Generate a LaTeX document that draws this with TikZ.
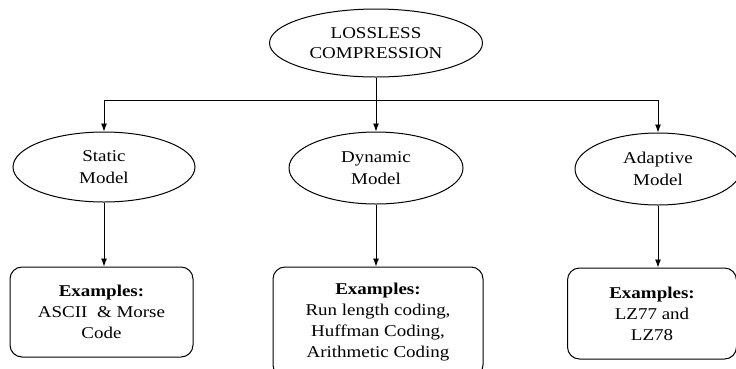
\documentclass[tikz,border=0pt]{standalone}
\usepackage{fontspec}
\setmainfont{Liberation Serif}[FakeStretch=1.15]
\usetikzlibrary{shapes.geometric,arrows.meta}

\begin{document}
\begin{tikzpicture}[x=1pt, y=-1pt,
    model/.style={ellipse, draw, line width=1pt, inner sep=0pt, align=center,
        font=\fontsize{16.5}{22}\selectfont},
    example/.style={draw, rounded corners=12pt, line width=1pt, inner sep=0pt, align=center,
        font=\fontsize{16.5}{21}\selectfont},
    arrow/.style={-{Latex[length=8pt,width=6pt]}, line width=0.9pt}]
    \useasboundingbox (0,0) rectangle (736,368);

    % Top of the tree
    \node[model, minimum width=213pt, minimum height=68pt, font=\fontsize{16.5}{20}\selectfont]
        (lossless) at (376,43) {LOSSLESS\\COMPRESSION};
    \coordinate (split) at (376,100);

    % Models
    \node[model, minimum width=182pt, minimum height=70pt] (static) at (104,167) {Static\\Model};
    \node[model, minimum width=174pt, minimum height=72pt] (dynamic) at (376,168) {Dynamic\\Model};
    \node[model, minimum width=166pt, minimum height=72pt] (adaptive) at (658,169) {Adaptive\\Model};

    % Examples
    \node[example, minimum width=183pt, minimum height=90pt] (exStatic) at (101.5,312)
        {\textbf{Examples:}\\ASCII \ \& Morse\\Code};
    \node[example, minimum width=210pt, minimum height=110pt] (exDynamic) at (378,322)
        {\textbf{Examples:}\\Run length coding,\\Huffman Coding,\\Arithmetic Coding};
    \node[example, minimum width=169pt, minimum height=91pt] (exAdaptive) at (652,313.5)
        {\textbf{Examples:}\\LZ77 and\\LZ78};

    % Connectors
    \draw[arrow] (lossless) -- (dynamic);
    \draw[arrow] (split) -| (static);
    \draw[arrow] (split) -| (adaptive);
    \draw[arrow] (static) -- (static |- exStatic.north);
    \draw[arrow] (dynamic) -- (dynamic |- exDynamic.north);
    \draw[arrow] (adaptive) -- (adaptive |- exAdaptive.north);

\end{tikzpicture}
\end{document}
